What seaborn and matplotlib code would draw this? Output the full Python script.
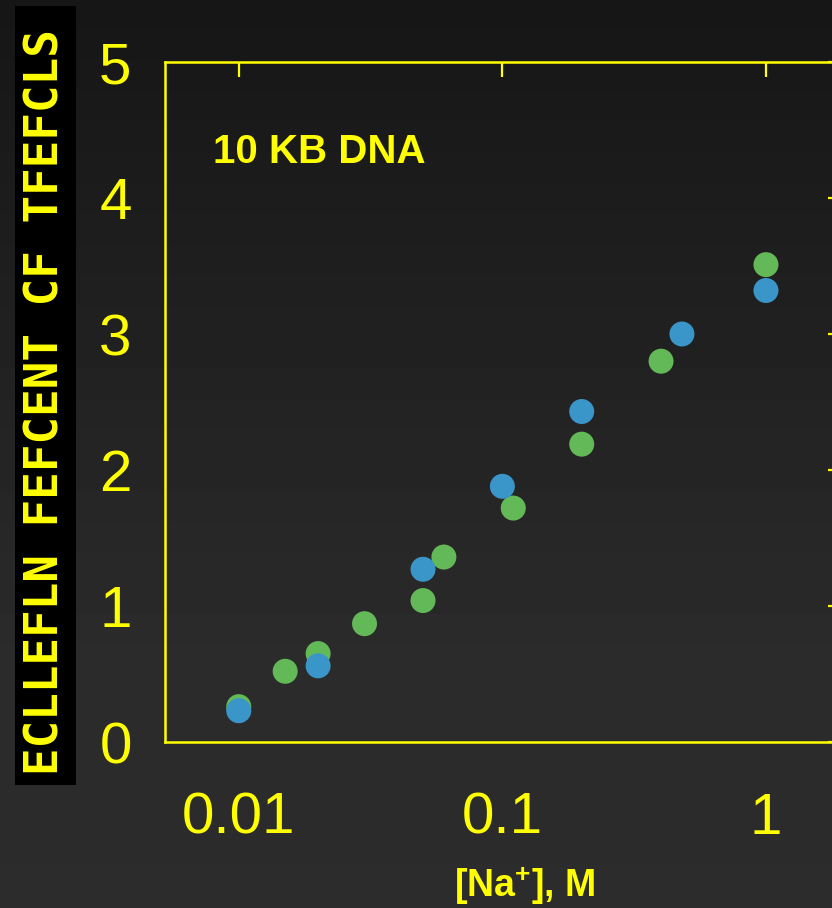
import numpy as np
import pandas as pd
import matplotlib
matplotlib.use('Agg')
import matplotlib.pyplot as plt
import seaborn as sns
from matplotlib.patches import Rectangle

# --- data ---
green_na = [0.01, 0.015, 0.02, 0.03, 0.05, 0.06, 0.11, 0.2, 0.4, 1.0]
green_val = [0.26, 0.52, 0.65, 0.87, 1.04, 1.36, 1.72, 2.19, 2.80, 3.51]
blue_na = [0.01, 0.02, 0.05, 0.1, 0.2, 0.48, 1.0]
blue_val = [0.23, 0.56, 1.27, 1.88, 2.43, 3.00, 3.32]

x_ticks = [0.01, 0.1, 1]
x_ticklabels = ['0.01', '0.1', '1']
y_ticks = [0, 1, 2, 3, 4, 5]

title_txt = '10 KB DNA'
xlabel_txt = r'[Na$^{\mathbf{+}}$], M'
side_txt = 'ECLLEFLN FEFCENT CF TFEFCLS'

YEL = '#ffff00'
GREEN = '#63b857'
BLUE = '#3a96c8'

df = pd.concat([
    pd.DataFrame({'na': green_na, 'val': green_val, 'serie': 'verde'}),
    pd.DataFrame({'na': blue_na, 'val': blue_val, 'serie': 'azul'}),
], ignore_index=True)

sns.set_theme(style='white')
plt.rcParams['font.family'] = ['Liberation Sans', 'DejaVu Sans']
plt.rcParams['mathtext.fontset'] = 'custom'
plt.rcParams['mathtext.rm'] = 'Liberation Sans'
plt.rcParams['mathtext.bf'] = 'Liberation Sans:bold'

W, H = 832, 908
fig = plt.figure(figsize=(W / 100, H / 100), dpi=100)

# fundo em degradê (escuro em cima, cinza em baixo)
bg = fig.add_axes([0, 0, 1, 1], zorder=-10)
rows = np.arange(H)
lvl = np.interp(rows, [0, 650, 908], [22, 43, 44]) / 255.0
grad = np.repeat(lvl[:, None], 2, axis=1)
bg.imshow(grad, cmap='gray', vmin=0, vmax=1, aspect='auto',
          extent=[0, 1, 0, 1], origin='upper')
bg.axis('off')

# caixa preta com o texto vertical
fig.patches.append(Rectangle((15 / W, 1 - 785 / H), 61 / W, 779 / H,
                             transform=fig.transFigure, facecolor='black',
                             edgecolor='none', zorder=1))
fig.text(46 / W, 1 - 402 / H, side_txt, rotation=90, ha='center', va='center',
         color=YEL, fontsize=33, fontweight='bold', family='DejaVu Sans Mono',
         zorder=2)

ax = fig.add_axes([165 / W, 1 - 742 / H, (843 - 165) / W, 680 / H])
ax.set_facecolor('none')

sns.scatterplot(data=df, x='na', y='val', hue='serie',
                palette={'verde': GREEN, 'azul': BLUE},
                s=324, linewidth=0, alpha=1, legend=False, ax=ax, zorder=3)

ax.set_xscale('log')
ax.set_xlim(0.00525, 1.96)
ax.set_ylim(0, 5)
ax.set_xticks(x_ticks)
ax.set_xticklabels(x_ticklabels)
ax.set_yticks(y_ticks)
ax.minorticks_off()

for s in ax.spines.values():
    s.set_color(YEL)
    s.set_linewidth(1.8)
    s.set_visible(True)

ax.tick_params(axis='both', which='major', direction='in', length=11,
               width=1.6, color=YEL, labelcolor=YEL, labelsize=42,
               top=True, right=True)
ax.tick_params(axis='y', pad=24)
ax.tick_params(axis='x', pad=36)

ax.set_xlabel(xlabel_txt, color=YEL, fontsize=27, fontweight='bold')
ax.xaxis.set_label_coords((525 - 165) / (843 - 165), -(897 - 742 - 27) / 680 - 0.0)
ax.xaxis.label.set_va('baseline')
ax.xaxis.set_label_coords((525 - 165) / (843 - 165), -(897 - 742) / 680)
ax.set_ylabel('')

ax.text(213 / W, 1 - 163 / H, title_txt, transform=fig.transFigure,
        color=YEL, fontsize=29, fontweight='bold', ha='left', va='baseline')

plt.savefig('out.png', dpi=100)
plt.close()
